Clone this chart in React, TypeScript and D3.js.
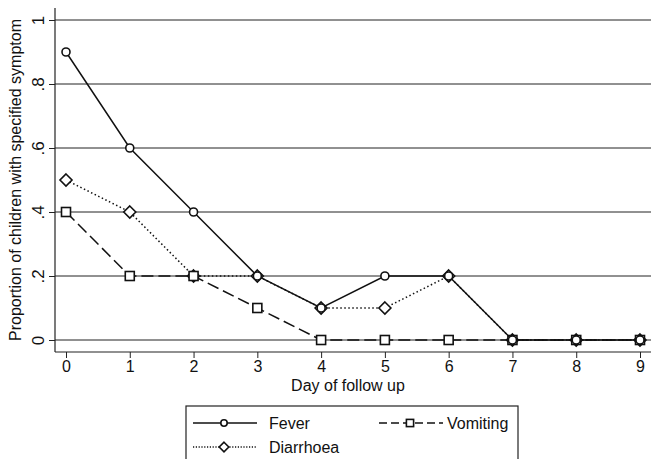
import { useEffect, useRef } from 'react'
import * as d3 from 'd3'

const days = [0, 1, 2, 3, 4, 5, 6, 7, 8, 9]
const fever = [0.9, 0.6, 0.4, 0.2, 0.1, 0.2, 0.2, 0, 0, 0]
const vomiting = [0.4, 0.2, 0.2, 0.1, 0, 0, 0, 0, 0, 0]
const diarrhoea = [0.5, 0.4, 0.2, 0.2, 0.1, 0.1, 0.2, 0, 0, 0]
const yTicks = [0, 0.2, 0.4, 0.6, 0.8, 1]
const yTickLabels = ['0', '.2', '.4', '.6', '.8', '1']

const FONT = 'Liberation Sans, Arial, sans-serif'

export default function App() {
  const ref = useRef<SVGSVGElement>(null)

  useEffect(() => {
    const svg = d3.select(ref.current)
    svg.selectAll('*').remove()

    const x = d3.scaleLinear().domain([0, 9]).range([66, 640])
    const y = d3.scaleLinear().domain([0, 1]).range([340, 20])
    const left = 55, right = 651, top = 8, bottom = 352

    // gridlines
    svg.append('g').selectAll('line')
      .data(yTicks)
      .join('line')
      .attr('x1', left).attr('x2', right)
      .attr('y1', d => y(d)).attr('y2', d => y(d))
      .attr('stroke', '#222').attr('stroke-width', 1)

    // y axis
    const yAxis = svg.append('g')
      .attr('transform', `translate(${left},0)`)
      .call(d3.axisLeft(y).tickValues(yTicks).tickSize(6).tickFormat((d, i) => yTickLabels[i]))
    yAxis.select('.domain').attr('d', `M0,${top}V${bottom}`).attr('stroke', '#222').attr('stroke-width', 1.2)
    yAxis.selectAll('.tick line').attr('stroke', '#222')
    yAxis.selectAll('.tick text')
      .attr('font-family', FONT).attr('font-size', 17).attr('fill', '#111')
      .attr('text-anchor', 'middle')
      .attr('x', 0).attr('y', 0).attr('dy', 0)
      .attr('transform', 'translate(-11,0) rotate(-90)')

    // x axis
    const xAxis = svg.append('g')
      .attr('transform', `translate(0,${bottom})`)
      .call(d3.axisBottom(x).tickValues(days).tickSize(6).tickFormat(d3.format('d')))
    xAxis.select('.domain').attr('d', `M${left},0H${right}`).attr('stroke', '#222').attr('stroke-width', 1.2)
    xAxis.selectAll('.tick line').attr('stroke', '#222')
    xAxis.selectAll('.tick text')
      .attr('font-family', FONT).attr('font-size', 16).attr('fill', '#111').attr('y', 9)

    svg.append('text')
      .attr('x', 348).attr('y', 391)
      .attr('text-anchor', 'middle')
      .attr('font-family', FONT).attr('font-size', 16).attr('fill', '#111')
      .text('Day of follow up')

    svg.append('text')
      .attr('transform', `translate(21,${(top + bottom) / 2}) rotate(-90)`)
      .attr('text-anchor', 'middle')
      .attr('font-family', FONT).attr('font-size', 16).attr('fill', '#111')
      .text('Proportion of children with specified symptom')

    const line = d3.line<number>().x((d, i) => x(days[i])).y(d => y(d))

    const series = [
      { name: 'Diarrhoea', values: diarrhoea, dash: '1.5,2.5', legendDash: '1.2,1.6', marker: 'diamond' },
      { name: 'Vomiting', values: vomiting, dash: '12,5', legendDash: '8,4', marker: 'square' },
      { name: 'Fever', values: fever, dash: null, legendDash: null, marker: 'circle' },
    ]

    const drawMarker = (g: any, kind: string, cx: number, cy: number, k = 1) => {
      if (kind === 'circle') {
        g.append('circle').attr('cx', cx).attr('cy', cy).attr('r', 4 * k)
          .attr('fill', 'white').attr('stroke', '#111').attr('stroke-width', 1.6)
      } else if (kind === 'square') {
        g.append('rect').attr('x', cx - 4.5 * k).attr('y', cy - 4.5 * k).attr('width', 9 * k).attr('height', 9 * k)
          .attr('fill', 'white').attr('stroke', '#111').attr('stroke-width', 1.6)
      } else {
        const s = 6 * k
        g.append('path').attr('d', `M${cx},${cy - s}L${cx + s},${cy}L${cx},${cy + s}L${cx - s},${cy}Z`)
          .attr('fill', 'white').attr('stroke', '#111').attr('stroke-width', 1.6)
      }
    }

    series.forEach(s => {
      const g = svg.append('g')
      g.append('path')
        .attr('d', line(s.values))
        .attr('fill', 'none').attr('stroke', '#111').attr('stroke-width', 1.5)
        .attr('stroke-dasharray', s.dash)
      s.values.forEach((v, i) => drawMarker(g, s.marker, x(days[i]), y(v)))
    })

    // legend
    const lg = svg.append('g')
    lg.append('rect').attr('x', 186).attr('y', 406).attr('width', 332).attr('height', 60)
      .attr('fill', 'white').attr('stroke', '#222').attr('stroke-width', 1.2)
    const items = [
      { s: series[2], x0: 193, y0: 423, tx: 269 },
      { s: series[1], x0: 379, y0: 423, tx: 447 },
      { s: series[0], x0: 193, y0: 447, tx: 269 },
    ]
    items.forEach(({ s, x0, y0, tx }) => {
      lg.append('line').attr('x1', x0).attr('x2', x0 + 64).attr('y1', y0).attr('y2', y0)
        .attr('stroke', '#111').attr('stroke-width', 1.3).attr('stroke-dasharray', s.legendDash)
      drawMarker(lg, s.marker, x0 + 31, y0, 0.8)
      lg.append('text').attr('x', tx).attr('y', y0 + 6)
        .attr('font-family', FONT).attr('font-size', 16).attr('fill', '#111')
        .text(s.name)
    })
  }, [])

  return (
    <svg ref={ref} width={651} height={459}
      style={{ position: 'absolute', left: 0, top: 0, background: 'white' }} />
  )
}
